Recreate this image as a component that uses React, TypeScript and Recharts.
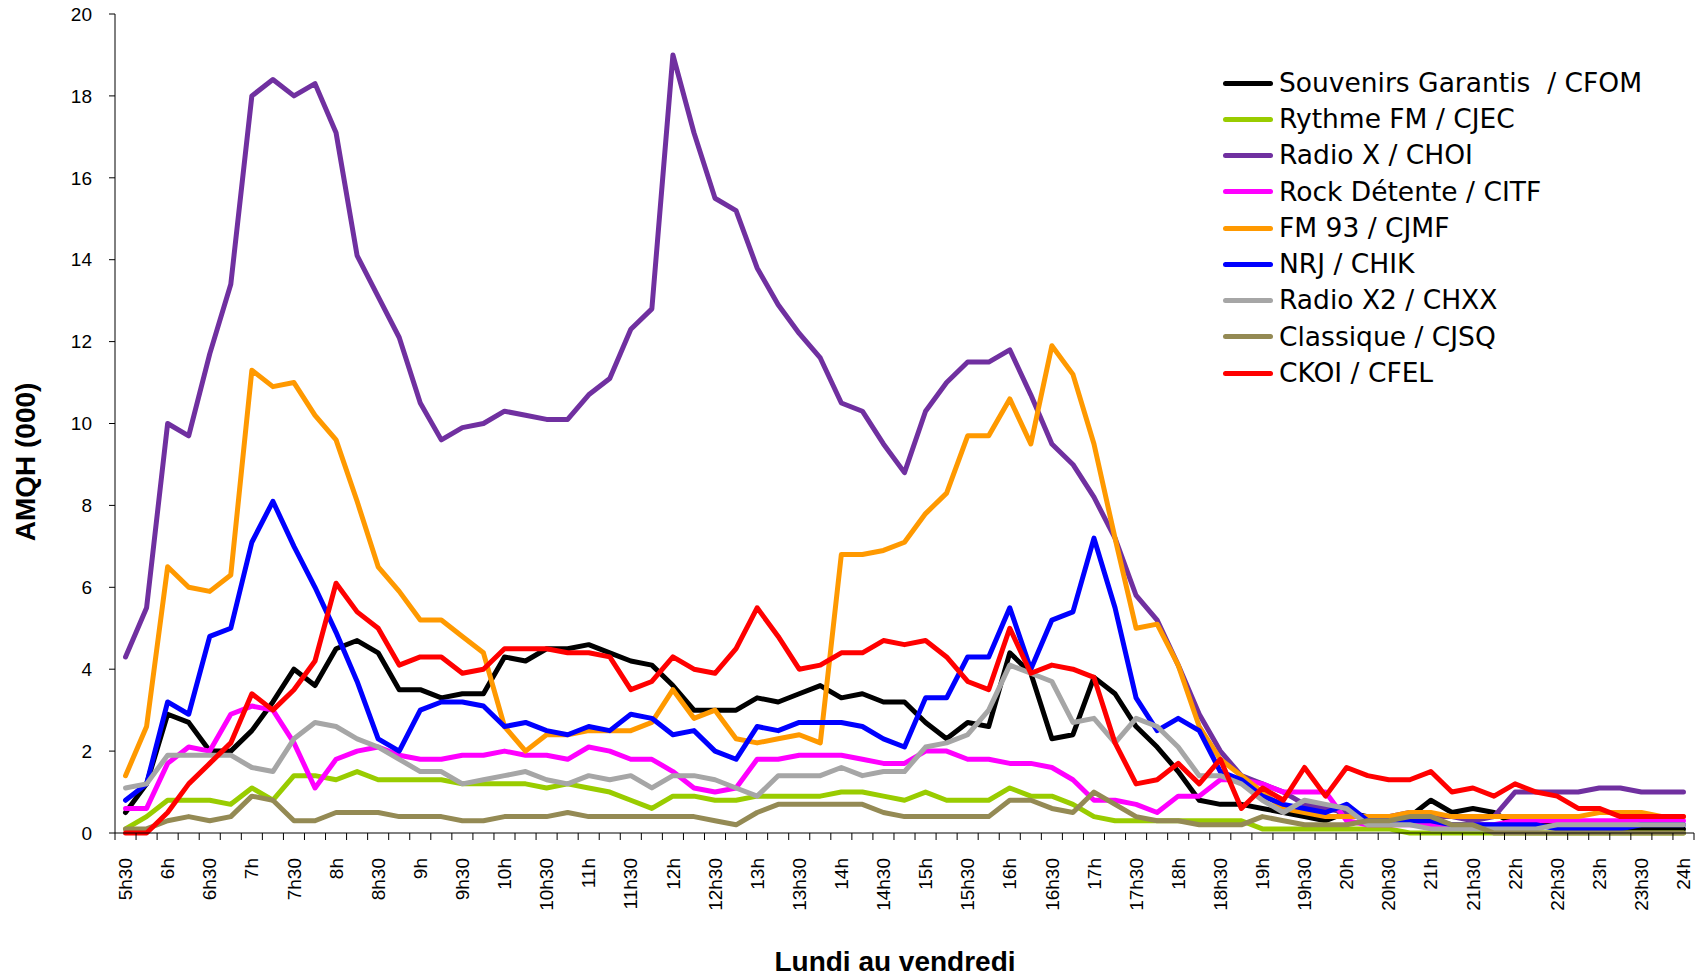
import React from 'react';
import { LineChart, Line, XAxis, YAxis, Legend } from 'recharts';

const slots = ['5h30','5h45','6h','6h15','6h30','6h45','7h','7h15','7h30','7h45','8h','8h15','8h30','8h45','9h','9h15','9h30','9h45','10h','10h15','10h30','10h45','11h','11h15','11h30','11h45','12h','12h15','12h30','12h45','13h','13h15','13h30','13h45','14h','14h15','14h30','14h45','15h','15h15','15h30','15h45','16h','16h15','16h30','16h45','17h','17h15','17h30','17h45','18h','18h15','18h30','18h45','19h','19h15','19h30','19h45','20h','20h15','20h30','20h45','21h','21h15','21h30','21h45','22h','22h15','22h30','22h45','23h','23h15','23h30','23h45','24h'];

const tickLabels = ['5h30','6h','6h30','7h','7h30','8h','8h30','9h','9h30','10h','10h30','11h','11h30','12h','12h30','13h','13h30','14h','14h30','15h','15h30','16h','16h30','17h','17h30','18h','18h30','19h','19h30','20h','20h30','21h','21h30','22h','22h30','23h','23h30','24h'];

const yTicks = [0, 2, 4, 6, 8, 10, 12, 14, 16, 18, 20];

const cfom = [0.5,1.2,2.9,2.7,2.0,2.0,2.5,3.2,4.0,3.6, 4.5,4.7,4.4,3.5,3.5,3.3,3.4,3.4,4.3,4.2, 4.5,4.5,4.6,4.4,4.2,4.1,3.6,3.0,3.0,3.0, 3.3,3.2,3.4,3.6,3.3,3.4,3.2,3.2,2.7,2.3, 2.7,2.6,4.4,3.9,2.3,2.4,3.8,3.4,2.6,2.1, 1.5,0.8,0.7,0.7,0.6,0.5,0.4,0.3,0.5,0.4, 0.3,0.4,0.8,0.5,0.6,0.5,0.2,0.2,0.2,0.1, 0.1,0.1,0.1,0.1,0.1];
const cjec = [0.1,0.4,0.8,0.8,0.8,0.7,1.1,0.8,1.4,1.4, 1.3,1.5,1.3,1.3,1.3,1.3,1.2,1.2,1.2,1.2, 1.1,1.2,1.1,1.0,0.8,0.6,0.9,0.9,0.8,0.8, 0.9,0.9,0.9,0.9,1.0,1.0,0.9,0.8,1.0,0.8, 0.8,0.8,1.1,0.9,0.9,0.7,0.4,0.3,0.3,0.3, 0.3,0.3,0.3,0.3,0.1,0.1,0.1,0.1,0.1,0.1, 0.1,0.0,0.0,0.0,0.0,0.0,0.0,0.0,0.0,0.0, 0.0,0.0,0.0,0.0,0.0];
const choi = [4.3,5.5,10.0,9.7,11.7,13.4,18.0,18.4,18.0,18.3, 17.1,14.1,13.1,12.1,10.5,9.6,9.9,10.0,10.3,10.2, 10.1,10.1,10.7,11.1,12.3,12.8,19.0,17.1,15.5,15.2, 13.8,12.9,12.2,11.6,10.5,10.3,9.5,8.8,10.3,11.0, 11.5,11.5,11.8,10.7,9.5,9.0,8.2,7.2,5.8,5.2, 4.1,2.9,2.0,1.4,1.2,1.0,0.7,0.6,0.5,0.3, 0.4,0.5,0.4,0.4,0.3,0.4,1.0,1.0,1.0,1.0, 1.1,1.1,1.0,1.0,1.0];
const citf = [0.6,0.6,1.7,2.1,2.0,2.9,3.1,3.0,2.2,1.1, 1.8,2.0,2.1,1.9,1.8,1.8,1.9,1.9,2.0,1.9, 1.9,1.8,2.1,2.0,1.8,1.8,1.5,1.1,1.0,1.1, 1.8,1.8,1.9,1.9,1.9,1.8,1.7,1.7,2.0,2.0, 1.8,1.8,1.7,1.7,1.6,1.3,0.8,0.8,0.7,0.5, 0.9,0.9,1.3,1.3,1.2,1.0,1.0,1.0,0.3,0.2, 0.2,0.2,0.2,0.2,0.2,0.2,0.3,0.3,0.3,0.3, 0.3,0.3,0.3,0.3,0.3];
const cjmf = [1.4,2.6,6.5,6.0,5.9,6.3,11.3,10.9,11.0,10.2, 9.6,8.1,6.5,5.9,5.2,5.2,4.8,4.4,2.6,2.0, 2.4,2.4,2.5,2.5,2.5,2.7,3.5,2.8,3.0,2.3, 2.2,2.3,2.4,2.2,6.8,6.8,6.9,7.1,7.8,8.3, 9.7,9.7,10.6,9.5,11.9,11.2,9.5,7.2,5.0,5.1, 4.1,2.6,1.8,1.4,1.0,0.6,0.5,0.4,0.4,0.4, 0.4,0.5,0.5,0.4,0.4,0.4,0.4,0.4,0.4,0.4, 0.5,0.5,0.5,0.4,0.4];
const chik = [0.8,1.2,3.2,2.9,4.8,5.0,7.1,8.1,7.0,6.0, 4.9,3.7,2.3,2.0,3.0,3.2,3.2,3.1,2.6,2.7, 2.5,2.4,2.6,2.5,2.9,2.8,2.4,2.5,2.0,1.8, 2.6,2.5,2.7,2.7,2.7,2.6,2.3,2.1,3.3,3.3, 4.3,4.3,5.5,4.0,5.2,5.4,7.2,5.5,3.3,2.5, 2.8,2.5,1.5,1.3,0.9,0.7,0.6,0.5,0.7,0.3, 0.3,0.3,0.3,0.2,0.2,0.2,0.2,0.2,0.1,0.1, 0.1,0.1,0.2,0.2,0.2];
const chxx = [1.1,1.2,1.9,1.9,1.9,1.9,1.6,1.5,2.3,2.7, 2.6,2.3,2.1,1.8,1.5,1.5,1.2,1.3,1.4,1.5, 1.3,1.2,1.4,1.3,1.4,1.1,1.4,1.4,1.3,1.1, 0.9,1.4,1.4,1.4,1.6,1.4,1.5,1.5,2.1,2.2, 2.4,3.0,4.1,3.9,3.7,2.7,2.8,2.2,2.8,2.6, 2.1,1.4,1.4,1.2,0.8,0.5,0.8,0.7,0.6,0.2, 0.2,0.2,0.1,0.1,0.1,0.1,0.1,0.1,0.2,0.2, 0.2,0.2,0.2,0.2,0.2];
const cjsq = [0.1,0.1,0.3,0.4,0.3,0.4,0.9,0.8,0.3,0.3, 0.5,0.5,0.5,0.4,0.4,0.4,0.3,0.3,0.4,0.4, 0.4,0.5,0.4,0.4,0.4,0.4,0.4,0.4,0.3,0.2, 0.5,0.7,0.7,0.7,0.7,0.7,0.5,0.4,0.4,0.4, 0.4,0.4,0.8,0.8,0.6,0.5,1.0,0.7,0.4,0.3, 0.3,0.2,0.2,0.2,0.4,0.3,0.2,0.2,0.2,0.3, 0.3,0.4,0.4,0.2,0.2,0.0,0.0,0.0,0.0,0.0, 0.0,0.0,0.0,0.0,0.0];
const cfel = [0.0,0.0,0.5,1.2,1.7,2.2,3.4,3.0,3.5,4.2, 6.1,5.4,5.0,4.1,4.3,4.3,3.9,4.0,4.5,4.5, 4.5,4.4,4.4,4.3,3.5,3.7,4.3,4.0,3.9,4.5, 5.5,4.8,4.0,4.1,4.4,4.4,4.7,4.6,4.7,4.3, 3.7,3.5,5.0,3.9,4.1,4.0,3.8,2.2,1.2,1.3, 1.7,1.2,1.8,0.6,1.1,0.8,1.6,0.9,1.6,1.4, 1.3,1.3,1.5,1.0,1.1,0.9,1.2,1.0,0.9,0.6, 0.6,0.4,0.4,0.4,0.4];

const seriesNames = ['Souvenirs Garantis  / CFOM', 'Rythme FM / CJEC', 'Radio X / CHOI', 'Rock Détente / CITF', 'FM 93 / CJMF', 'NRJ / CHIK', 'Radio X2 / CHXX', 'Classique / CJSQ', 'CKOI / CFEL'];
const seriesKeys = ['cfom', 'cjec', 'choi', 'citf', 'cjmf', 'chik', 'chxx', 'cjsq', 'cfel'];
const seriesColors = ['#000000', '#99CC00', '#7030A0', '#FF00FF', '#FF9900', '#0000FF', '#A6A6A6', '#948A54', '#FF0000'];
const seriesValues = [cfom, cjec, choi, citf, cjmf, chik, chxx, cjsq, cfel];

const rows = slots.map((t, i) => {
  const r: any = { i, t };
  seriesKeys.forEach((k, s) => { r[k] = seriesValues[s][i]; });
  return r;
});

// tick marks between categories, labels on every other category
const xTicks: number[] = [];
for (let i = 0; i < slots.length; i++) {
  xTicks.push(i - 0.5);
  if (i % 2 === 0) xTicks.push(i);
}
xTicks.push(slots.length - 0.5);

const FONT = '"Liberation Sans", Arial, sans-serif';

const XTick = (props: any) => {
  const { x, y, payload } = props;
  const v = payload.value;
  if (!Number.isInteger(v)) {
    return <line x1={x} y1={y} x2={x} y2={y + 7} stroke="#000" strokeWidth={1} />;
  }
  const ly = y + 25;
  return (
    <text x={x} y={ly} transform={`rotate(-90 ${x} ${ly})`} textAnchor="end" dy="0.35em"
      fontSize={19} fontFamily={FONT} fill="#000">
      {tickLabels[v / 2]}
    </text>
  );
};

const LegendBox = () => (
  <div style={{ fontFamily: '"DejaVu Sans", Verdana, sans-serif', fontSize: 26.5, color: '#000' }}>
    {seriesNames.map((n, s) => (
      <div key={n} style={{ display: 'flex', alignItems: 'center', height: 36.25 }}>
        <span style={{ display: 'inline-block', width: 50, height: 5, background: seriesColors[s], borderRadius: 3, marginRight: 6 }} />
        <span style={{ whiteSpace: 'pre', lineHeight: 1 }}>{n}</span>
      </div>
    ))}
  </div>
);

export default function App() {
  return (
    <div style={{ position: 'absolute', left: 0, top: 0, width: 1706, height: 978, background: '#fff' }}>
      <LineChart width={1706} height={978} data={rows} margin={{ top: 14, right: 12, bottom: 0, left: 0 }}>
        <XAxis dataKey="i" type="number" domain={[-0.5, 74.5]} ticks={xTicks} interval={0}
          tickLine={false} tickSize={0} tickMargin={0} height={145} allowDataOverflow
          axisLine={{ stroke: '#000', strokeWidth: 1 }} tick={<XTick />}
          label={{ content: () => (
            <text x={895} y={971} textAnchor="middle" fontSize={28} fontWeight="bold" fontFamily={FONT} fill="#000">Lundi au vendredi</text>
          ) }} />
        <YAxis type="number" domain={[0, 20]} ticks={yTicks} interval={0} width={115}
          tickSize={6} tickMargin={17} tick={{ fontSize: 19, fontFamily: FONT, fill: '#000' }}
          axisLine={{ stroke: '#000', strokeWidth: 1 }} tickLine={{ stroke: '#000' }}
          label={{ content: () => (
            <text x={25} y={462} transform="rotate(-90 25 462)" textAnchor="middle" dy="0.35em" fontSize={28} fontWeight="bold" fontFamily={FONT} fill="#000">AMQH (000)</text>
          ) }} />
        <Legend layout="vertical" align="center" verticalAlign="middle" content={<LegendBox />}
          wrapperStyle={{ position: 'absolute', left: 1223, top: 65, width: 480, height: 'auto' }} />
        {seriesKeys.map((k, s) => (
          <Line key={k} dataKey={k} name={seriesNames[s]} type="linear" stroke={seriesColors[s]} strokeWidth={5}
            strokeLinejoin="round" strokeLinecap="round" dot={false} activeDot={false} isAnimationActive={false} />
        ))}
      </LineChart>
    </div>
  );
}
